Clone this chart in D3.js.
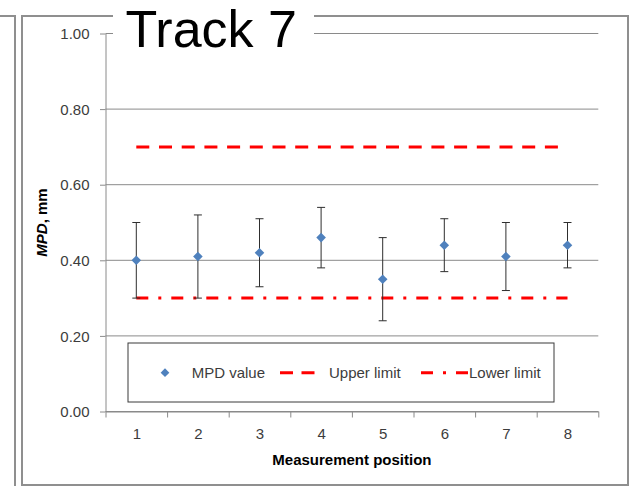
<!DOCTYPE html>
<html>
<head>
<meta charset="utf-8">
<script src="https://cdn.jsdelivr.net/npm/d3@7"></script>
<style>
  html, body { margin: 0; padding: 0; background: #fff; }
  svg { display: block; font-family: "Liberation Sans", Arial, sans-serif; }
</style>
</head>
<body>
<svg id="chart" width="631" height="486"></svg>
<script>
// Measurement positions along the track
const positions = [1, 2, 3, 4, 5, 6, 7, 8];
// Mean profile depth per position (mm)
const mpdValues = [0.40, 0.41, 0.42, 0.46, 0.35, 0.44, 0.41, 0.44];
// Error bar extents (mm)
const errorHigh = [0.50, 0.52, 0.51, 0.54, 0.46, 0.51, 0.50, 0.50];
const errorLow  = [0.30, 0.30, 0.33, 0.38, 0.24, 0.37, 0.32, 0.38];
// Specification limits (mm)
const upperLimit = [0.70, 0.70, 0.70, 0.70, 0.70, 0.70, 0.70, 0.70];
const lowerLimit = [0.30, 0.30, 0.30, 0.30, 0.30, 0.30, 0.30, 0.30];
// Axis ticks
const yTicks = [0.00, 0.20, 0.40, 0.60, 0.80, 1.00];
const titleText = "Track 7";
const xTitle = "Measurement position";
const legendLabels = ["MPD value", "Upper limit", "Lower limit"];

const svg = d3.select("#chart");
const plot = { left: 105.5, right: 598.3, top: 33.5, bottom: 411.5 };
const gridColor = "#8a8a8a";
const textColor = "#3c3c3c";
const blue = "#4f81bd";
const red = "#ff0000";
const upperDash = "13,9.7";
const lowerDash = "12,10,3,10";

const x = d3.scaleLinear().domain([0.5, 8.5]).range([plot.left, plot.right]);
const y = d3.scaleLinear().domain([0, 1]).range([plot.bottom, plot.top]);

// Neighbouring panel edge and the chart frame
svg.append("path")
  .attr("d", "M0,16H15V486")
  .attr("fill", "none").attr("stroke", "#8f8f8f").attr("stroke-width", 2);
svg.append("rect")
  .attr("x", 22).attr("y", 16).attr("width", 606).attr("height", 469)
  .attr("fill", "#fff").attr("stroke", "#8f8f8f").attr("stroke-width", 2);

// Horizontal gridlines
svg.append("g").selectAll("line").data(yTicks).join("line")
  .attr("x1", plot.left).attr("x2", plot.right)
  .attr("y1", d => y(d)).attr("y2", d => y(d))
  .attr("stroke", gridColor).attr("stroke-width", 1);

// Y axis
const yAxis = svg.append("g")
  .attr("transform", `translate(${plot.left},0)`)
  .call(d3.axisLeft(y).tickValues(yTicks).tickFormat(d3.format(".2f"))
    .tickSize(5.5).tickSizeOuter(0).tickPadding(10.5));
yAxis.select(".domain").attr("stroke", gridColor);
yAxis.selectAll(".tick line").attr("stroke", gridColor);
yAxis.selectAll("text").attr("fill", textColor)
  .style("font-size", "15px").style("font-family", "Liberation Sans, Arial, sans-serif")
  .attr("dy", "0.34em");

// X axis: tick marks on category boundaries, labels at category centres
const boundaries = d3.range(0.5, 9, 1);
const xAxisMarks = svg.append("g")
  .attr("transform", `translate(0,${plot.bottom})`)
  .call(d3.axisBottom(x).tickValues(boundaries).tickFormat("").tickSize(6).tickSizeOuter(0));
xAxisMarks.select(".domain").attr("stroke", gridColor);
xAxisMarks.selectAll(".tick line").attr("stroke", gridColor);

const xAxisLabels = svg.append("g")
  .attr("transform", `translate(0,${plot.bottom})`)
  .call(d3.axisBottom(x).tickValues(positions).tickFormat(d3.format("d")).tickSize(0).tickPadding(17));
xAxisLabels.select(".domain").remove();
xAxisLabels.selectAll("text").attr("fill", textColor)
  .style("font-size", "15px").style("font-family", "Liberation Sans, Arial, sans-serif");

// Upper and lower limit lines
const limitLine = d3.line().x((d, i) => x(positions[i])).y(d => y(d));
svg.append("path").datum(upperLimit)
  .attr("d", limitLine).attr("fill", "none")
  .attr("stroke", red).attr("stroke-width", 3).attr("stroke-dasharray", upperDash);
svg.append("path").datum(lowerLimit)
  .attr("d", limitLine).attr("fill", "none")
  .attr("stroke", red).attr("stroke-width", 3).attr("stroke-dasharray", lowerDash);

// Error bars
const errColor = "#2e2e2e";
const bars = svg.append("g").selectAll("g").data(positions).join("g");
bars.append("line")
  .attr("x1", d => x(d)).attr("x2", d => x(d))
  .attr("y1", (d, i) => y(errorLow[i])).attr("y2", (d, i) => y(errorHigh[i]))
  .attr("stroke", errColor).attr("stroke-width", 1);
bars.append("line")
  .attr("x1", d => x(d) - 4).attr("x2", d => x(d) + 4)
  .attr("y1", (d, i) => y(errorHigh[i])).attr("y2", (d, i) => y(errorHigh[i]))
  .attr("stroke", errColor).attr("stroke-width", 1);
bars.append("line")
  .attr("x1", d => x(d) - 4).attr("x2", d => x(d) + 4)
  .attr("y1", (d, i) => y(errorLow[i])).attr("y2", (d, i) => y(errorLow[i]))
  .attr("stroke", errColor).attr("stroke-width", 1);

// MPD markers (diamonds)
const diamond = d3.symbol().type(d3.symbolSquare).size(46);
svg.append("g").selectAll("path").data(positions).join("path")
  .attr("d", diamond)
  .attr("transform", (d, i) => `translate(${x(d)},${y(mpdValues[i])}) rotate(45)`)
  .attr("fill", blue);

// Legend
const legend = svg.append("g");
legend.append("rect")
  .attr("x", 128).attr("y", 343).attr("width", 426).attr("height", 59)
  .attr("fill", "#fff").attr("stroke", "#3a3a3a").attr("stroke-width", 1);
const ly = 372.7;
legend.append("path")
  .attr("d", d3.symbol().type(d3.symbolSquare).size(38))
  .attr("transform", `translate(165,${ly}) rotate(45)`)
  .attr("fill", blue);
legend.append("line")
  .attr("x1", 280).attr("x2", 315).attr("y1", ly).attr("y2", ly)
  .attr("stroke", red).attr("stroke-width", 3).attr("stroke-dasharray", "13,8.5");
legend.append("line")
  .attr("x1", 421).attr("x2", 468.3).attr("y1", ly).attr("y2", ly)
  .attr("stroke", red).attr("stroke-width", 3).attr("stroke-dasharray", "12,10,3,10");
legend.selectAll("text").data(legendLabels).join("text")
  .attr("x", (d, i) => [191.7, 329, 469][i])
  .attr("y", 377.5)
  .attr("fill", textColor)
  .style("font-size", "15px")
  .text(d => d);

// Axis titles
svg.append("text")
  .attr("x", (plot.left + plot.right) / 2).attr("y", 464.5)
  .attr("text-anchor", "middle")
  .style("font-size", "15px").style("font-weight", "bold")
  .attr("fill", "#000")
  .text(xTitle);

const yTitle = svg.append("text")
  .attr("transform", `translate(47.3,${(plot.top + plot.bottom) / 2}) rotate(-90)`)
  .attr("text-anchor", "middle")
  .style("font-size", "15px").style("font-weight", "bold")
  .attr("fill", "#000");
yTitle.append("tspan").style("font-style", "italic").text("MPD");
yTitle.append("tspan").text(", mm");

// Chart title on a white plate over the frame
svg.append("rect")
  .attr("x", 113).attr("y", 0).attr("width", 201).attr("height", 50)
  .attr("fill", "#fff");
svg.append("text")
  .attr("x", 125.5).attr("y", 46.5)
  .style("font-size", "52px")
  .attr("fill", "#000")
  .text(titleText);
</script>
</body>
</html>
